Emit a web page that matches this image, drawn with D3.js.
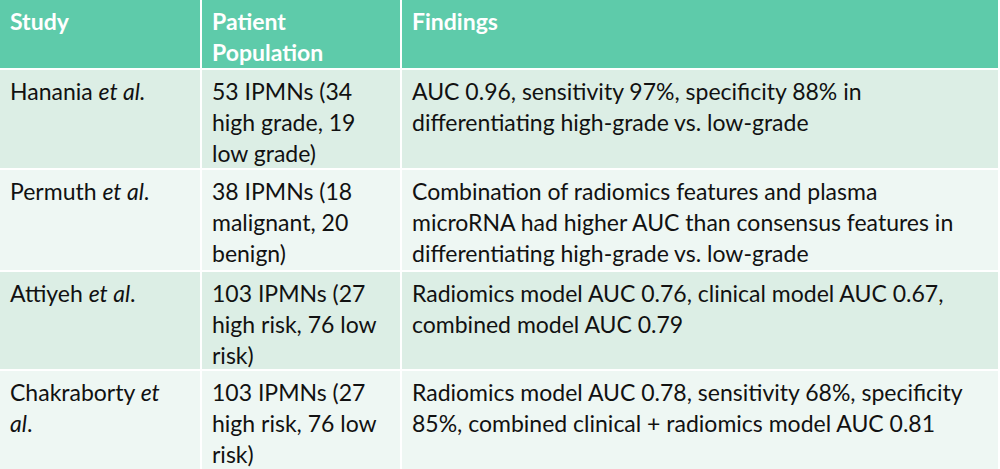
<!DOCTYPE html>
<html><head><meta charset="utf-8">
<script src="https://cdn.jsdelivr.net/npm/d3@7"></script>
<style>body{margin:0;background:#fff}svg{display:block;font-family:Lato,"Open Sans",sans-serif}</style>
</head><body>
<script>
// table content, each cell is a list of lines; segments marked with * are italic
var headers = [['Study'], ['Patient', 'Population'], ['Findings']];
var studies = [
  ['Hanania *et al.*'],
  ['Permuth *et al*.'],
  ['Attiyeh *et al*.'],
  ['Chakraborty *et*', '*al*.']
];
var populations = [
  ['53 IPMNs (34', 'high grade, 19', 'low grade)'],
  ['38 IPMNs (18', 'malignant, 20', 'benign)'],
  ['103 IPMNs (27', 'high risk, 76 low', 'risk)'],
  ['103 IPMNs (27', 'high risk, 76 low', 'risk)']
];
var findings = [
  ['AUC 0.96, sensitivity 97%, specificity 88% in', 'differentiating high-grade vs. low-grade'],
  ['Combination of radiomics features and plasma', 'microRNA had higher AUC than consensus features in', 'differentiating high-grade vs. low-grade'],
  ['Radiomics model AUC 0.76, clinical model AUC 0.67,', 'combined model AUC 0.79'],
  ['Radiomics model AUC 0.78, sensitivity 68%, specificity', '85%, combined clinical + radiomics model AUC 0.81']
];
var rowEdges = [0, 70, 170, 272, 371, 471];
var colEdges = [0, 202, 402, 1000];

var W = 1000, H = 469;
var svg = d3.select('body').append('svg').attr('width', W).attr('height', H);

var rows = [headers].concat(studies.map(function (s, i) { return [s, populations[i], findings[i]]; }));
var fills = ['#5ecbaa', '#dceee5', '#eef7f3', '#dceee5', '#eef7f3'];

rows.forEach(function (row, r) {
  row.forEach(function (cell, c) {
    var x0 = colEdges[c], y0 = rowEdges[r];
    svg.append('rect').attr('x', x0).attr('y', y0)
      .attr('width', colEdges[c + 1] - x0 - 2).attr('height', rowEdges[r + 1] - y0 - 2)
      .attr('fill', fills[r]);
    var t = svg.append('text').attr('font-size', 23)
      .attr('fill', r === 0 ? '#fff' : '#111').attr('font-weight', r === 0 ? 700 : 400);
    cell.forEach(function (line, li) {
      var parts = line.split('*');
      parts.forEach(function (p, pi) {
        if (!p) return;
        var ts = t.append('tspan').text(p).attr('font-style', pi % 2 ? 'italic' : 'normal');
        if (pi === 0 || (pi === 1 && !parts[0])) ts.attr('x', x0 + 10).attr('y', y0 + 30 + li * 31);
      });
    });
  });
});
</script>
</body></html>
